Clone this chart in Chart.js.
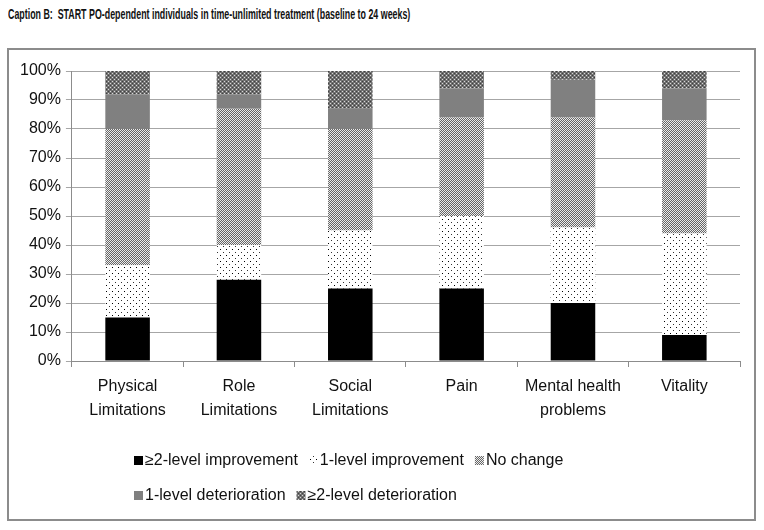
<!DOCTYPE html>
<html>
<head>
<meta charset="utf-8">
<script src="https://cdn.jsdelivr.net/npm/chart.js@4"></script>
<style>
  body { margin: 0; background: #fff; width: 764px; height: 530px; overflow: hidden; position: relative; }
  #caption { position: absolute; left: 8px; top: 5px; font: bold 15px 'Liberation Sans', Arial, sans-serif; color: #111; white-space: nowrap; transform-origin: 0 0; }
  #box { position: absolute; left: 7px; top: 48px; width: 745px; height: 469px; border: 2px solid #8c8c8c; }
  #box canvas { position: absolute; left: 0; top: 0; }
</style>
</head>
<body>
<div id="caption">Caption B:&nbsp; START PO-dependent individuals in time-unlimited treatment (baseline to 24 weeks)</div>
<div id="box"><canvas id="sf36Chart" width="745" height="469"></canvas></div>
<script>
// Change in SF-36 domains, baseline to 24 weeks
const categories = [['Physical', 'Limitations'], ['Role', 'Limitations'], ['Social', 'Limitations'], 'Pain', ['Mental health', 'problems'], 'Vitality'];
const seriesNames = ['\u22652-level improvement', '1-level improvement', 'No change', '1-level deterioration', '\u22652-level deterioration'];
const improve2 = [15, 28, 25, 25, 20, 9];
const improve1 = [18, 12, 20, 25, 26, 35];
const noChange = [47, 47, 35, 34, 38, 39];
const deter1 = [12, 5, 7, 10, 13, 11];
const deter2 = [8, 8, 13, 6, 3, 6];

const FONT = "'Liberation Sans', Arial, sans-serif";

// squeeze the caption to the reference width
const cap = document.getElementById('caption');
cap.style.transform = 'scaleX(' + (402 / cap.offsetWidth) + ')';

// small tile patterns like the Excel fills
function makePattern(size, draw) {
  const c = document.createElement('canvas');
  c.width = size; c.height = size;
  draw(c.getContext('2d'));
  return document.getElementById('sf36Chart').getContext('2d').createPattern(c, 'repeat');
}
const dots = makePattern(6, g => {
  g.fillStyle = '#fff'; g.fillRect(0, 0, 6, 6);
  g.fillStyle = '#000'; g.fillRect(1, 1, 1, 1);
  g.fillStyle = '#333'; g.fillRect(4, 4, 1, 1);
});
const checker = makePattern(2, g => {
  g.fillStyle = '#ececec'; g.fillRect(0, 0, 2, 2);
  g.fillStyle = '#666'; g.fillRect(0, 0, 1, 1); g.fillRect(1, 1, 1, 1);
});
const darkDots = makePattern(4, g => {
  g.fillStyle = '#707070'; g.fillRect(0, 0, 4, 4);
  g.fillStyle = '#d8d8d8'; g.fillRect(1, 1, 1, 1); g.fillRect(3, 3, 1, 1);
  g.fillStyle = '#404040'; g.fillRect(1, 3, 1, 1); g.fillRect(3, 1, 1, 1);
});

// legend drawn as two rows like the original
const rowLegend = {
  id: 'rowLegend',
  afterDraw(chart) {
    const g = chart.ctx;
    const rows = [[0, 1, 2], [3, 4]];
    const rowY = [411, 446];
    g.save();
    g.font = '16px ' + FONT;
    g.textBaseline = 'middle';
    rows.forEach((row, r) => {
      let x = 125;
      row.forEach(i => {
        const ds = chart.data.datasets[i];
        g.fillStyle = ds.backgroundColor;
        g.fillRect(x, rowY[r] - 5, 9, 9);
        x += 11;
        g.fillStyle = '#111';
        g.fillText(ds.label, x, rowY[r]);
        x += g.measureText(ds.label).width + 11;
      });
    });
    g.restore();
  }
};

const ctx = document.getElementById('sf36Chart').getContext('2d');
const sf36Chart = new Chart(ctx, {
  type: 'bar',
  data: {
    labels: categories,
    datasets: [
      { label: seriesNames[0], data: improve2, backgroundColor: '#000' },
      { label: seriesNames[1], data: improve1, backgroundColor: dots },
      { label: seriesNames[2], data: noChange, backgroundColor: checker },
      { label: seriesNames[3], data: deter1, backgroundColor: '#808080' },
      { label: seriesNames[4], data: deter2, backgroundColor: darkDots }
    ]
  },
  options: {
    responsive: false,
    animation: false,
    barPercentage: 0.4,
    categoryPercentage: 1,
    layout: { padding: { top: 21, right: 14, left: 6, bottom: 88 } },
    plugins: {
      legend: { display: false },
      tooltip: { enabled: false }
    },
    scales: {
      x: {
        stacked: true,
        grid: { drawOnChartArea: false, color: '#8c8c8c', tickLength: 6 },
        border: { color: '#8c8c8c' },
        ticks: { color: '#111', padding: 8, autoSkip: false, maxRotation: 0, font: { family: FONT, size: 16, lineHeight: 1.5 } }
      },
      y: {
        stacked: true,
        min: 0,
        max: 100,
        grid: { color: '#a6a6a6', tickLength: 6 },
        border: { color: '#8c8c8c' },
        ticks: {
          stepSize: 10,
          color: '#111',
          padding: 5,
          font: { family: FONT, size: 16 },
          callback: v => v + '%'
        }
      }
    }
  },
  plugins: [rowLegend]
});
</script>
</body>
</html>
